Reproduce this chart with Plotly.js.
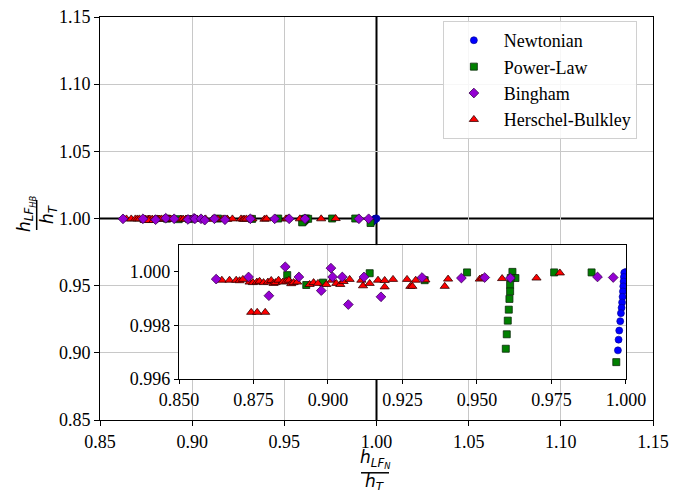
<!DOCTYPE html>
<html>
<head>
<meta charset="utf-8">
<script src="https://cdn.plot.ly/plotly-3.0.1.min.js"></script>
<style>html,body{margin:0;padding:0;background:#fff;}#chart{width:684px;height:490px;}</style>
</head>
<body>
<div id="chart"></div>
<script>
// ---- data ----
const seriesNames = ["Newtonian", "Power-Law", "Bingham", "Herschel-Bulkley"];

const newtX = [1.0, 0.99945, 0.99933, 0.99922, 0.99911, 0.99900, 0.99888, 0.99872, 0.99855, 0.99833, 0.99810, 0.99776, 0.99754, 0.99732];
const newtY = [1.0, 0.99997, 0.99981, 0.99964, 0.99946, 0.99927, 0.99907, 0.99886, 0.99866, 0.99846, 0.99816, 0.99781, 0.99747, 0.99707];

const powerX = [0.88632, 0.89271, 0.89831, 0.91400, 0.93246, 0.94668, 0.96191, 0.96292, 0.96135, 0.96114, 0.96114, 0.96091, 0.96069, 0.96035, 0.96001, 0.95968, 0.97592, 0.98848, 0.99677];
const powerY = [0.99988, 0.99951, 0.99960, 0.99995, 0.99969, 0.99998, 1.00000, 0.99977, 0.99977, 0.99952, 0.99927, 0.99899, 0.99859, 0.99818, 0.99767, 0.99713, 0.99998, 0.99998, 0.99663];

const binghamX = [0.86247, 0.87334, 0.88566, 0.88017, 0.89024, 0.89774, 0.90099, 0.90155, 0.90480, 0.90682, 0.91208, 0.91779, 0.93157, 0.94478, 0.95262, 0.96124, 0.99047, 0.99574];
const binghamY = [0.99973, 0.99981, 1.00019, 0.99911, 0.99981, 0.99930, 1.00014, 0.99981, 0.99981, 0.99878, 0.99981, 0.99907, 0.99979, 0.99977, 0.99979, 0.99977, 0.99981, 0.99979];

const hbX = [0.86437, 0.86695, 0.86919, 0.87031, 0.87143, 0.87367, 0.87479, 0.87613, 0.87703, 0.87837, 0.87983, 0.88095, 0.88173, 0.88240, 0.88341, 0.88487, 0.88599, 0.88688, 0.88767, 0.88845, 0.88968,
             0.89383, 0.89517, 0.89663, 0.89943, 0.90133, 0.90279, 0.90413, 0.90525, 0.90727, 0.91119, 0.91175, 0.91399, 0.91679, 0.91903, 0.91903,
             0.92183, 0.92653, 0.92765, 0.92832, 0.92944, 0.93269, 0.93919, 0.94031, 0.95095, 0.95173, 0.95845, 0.96999, 0.97783,
             0.87423, 0.87624, 0.87893];
const hbY = [0.99969, 0.99969, 0.99969, 0.99967, 0.99972, 0.99962, 0.99960, 0.99962, 0.99965, 0.99960, 0.99962, 0.99968, 0.99957, 0.99960, 0.99969, 0.99962, 0.99965, 0.99969, 0.99956, 0.99960, 0.99962,
             0.99953, 0.99960, 0.99957, 0.99953, 0.99969, 0.99957, 0.99953, 0.99964, 0.99972, 0.99969, 0.99948, 0.99957, 0.99969, 0.99968, 0.99944,
             0.99972, 0.99972, 0.99946, 0.99946, 0.99969, 0.99970, 0.99946, 0.99973, 0.99973, 0.99977, 0.99975, 0.99977, 0.99996,
             0.99849, 0.99849, 0.99849];

const mainTicks = [0.85, 0.90, 0.95, 1.00, 1.05, 1.10, 1.15];
const mainGrid = [0.85, 0.90, 0.95, 1.05, 1.10, 1.15];      // 1.00 carries the black reference line
const insetXTicks = [0.850, 0.875, 0.900, 0.925, 0.950, 0.975, 1.000];
const insetYTicks = [0.996, 0.998, 1.000];
const insetYGrid = [0.998];

// ---- styles ----
const serif = "Liberation Serif";
const styles = [
  {symbol: "circle", size: 7, color: "#0000ff", line: {color: "#00008a", width: 0.6}},
  {symbol: "square", size: 7, color: "#008000", line: {color: "#0a2a0a", width: 0.8}},
  {symbol: "diamond", size: 7.5, color: "#9400d3", line: {color: "#3a0050", width: 0.8}},
  {symbol: "triangle-up", size: 8, color: "#ff0000", line: {color: "#300000", width: 0.8}}
];
const xs = [newtX, powerX, binghamX, hbX];
const ys = [newtY, powerY, binghamY, hbY];
const drawOrder = [0, 1, 3, 2];

const traces = [];
drawOrder.forEach(i => {
  traces.push({
    x: xs[i], y: ys[i], type: "scatter", mode: "markers", name: seriesNames[i],
    xaxis: "x", yaxis: "y", legendrank: i + 1, showlegend: true,
    marker: {symbol: styles[i].symbol, size: styles[i].size, color: styles[i].color, line: styles[i].line}
  });
});
drawOrder.forEach(i => {
  traces.push({
    x: xs[i], y: ys[i], type: "scatter", mode: "markers", name: seriesNames[i],
    xaxis: "x2", yaxis: "y2", showlegend: false,
    marker: {symbol: styles[i].symbol, size: styles[i].size, color: styles[i].color, line: styles[i].line}
  });
});

const gridC = "#c8c8c8";
const tickFont = {family: serif, size: 18, color: "#000"};
const mathFont = {family: "DejaVu Sans", size: 17, color: "#000"};

function axis(extra) {
  return Object.assign({
    showgrid: false, zeroline: false,
    showline: true, linecolor: "#000", linewidth: 1, mirror: true,
    ticks: "outside", ticklen: 5, tickcolor: "#000", tickfont: tickFont
  }, extra);
}

const layout = {
  width: 684, height: 490, autosize: false,
  margin: {l: 100, r: 31, t: 17, b: 70, pad: 0},
  paper_bgcolor: "#fff", plot_bgcolor: "#fff",
  showlegend: true,
  legend: {
    x: 0.62, y: 0.99, xanchor: "left", yanchor: "top",
    bgcolor: "rgba(255,255,255,0.85)", bordercolor: "#d0d0d0", borderwidth: 1,
    font: {family: serif, size: 18, color: "#000"},
    itemwidth: 50, tracegroupgap: 0
  },
  xaxis: axis({domain: [0, 1], range: [0.85, 1.15], tickvals: mainTicks, tickformat: ".2f", anchor: "y",
    minor: {tickvals: mainGrid, showgrid: true, gridcolor: gridC, gridwidth: 1, ticks: ""}}),
  yaxis: axis({domain: [0, 1], range: [0.85, 1.15], tickvals: mainTicks, tickformat: ".2f", anchor: "x",
    minor: {tickvals: mainGrid, showgrid: true, gridcolor: gridC, gridwidth: 1, ticks: ""}}),
  xaxis2: axis({domain: [0.1429, 0.951], range: [0.85, 1.0], tickvals: insetXTicks, tickformat: ".3f", anchor: "y2",
    showgrid: true, gridcolor: gridC, gridwidth: 1, linewidth: 1.2, ticklen: 4}),
  yaxis2: axis({domain: [0.1017, 0.434], range: [0.996, 1.001], tickvals: insetYTicks, tickformat: ".3f", anchor: "x2",
    linewidth: 1.2, ticklen: 4,
    minor: {tickvals: insetYGrid, showgrid: true, gridcolor: gridC, gridwidth: 1, ticks: ""}}),
  shapes: [
    {type: "line", xref: "x", yref: "y domain", x0: 1, x1: 1, y0: 0, y1: 1, line: {color: "#000", width: 2}, layer: "below"},
    {type: "line", xref: "x domain", yref: "y", x0: 0, x1: 1, y0: 1, y1: 1, line: {color: "#000", width: 2}, layer: "below"},
    {type: "line", xref: "x2 domain", yref: "y2", x0: 0, x1: 1, y0: 1, y1: 1, line: {color: "#000", width: 1.6}, layer: "below"},
    // fraction bars for axis labels
    {type: "line", xref: "paper", yref: "paper", x0: 0.472, x1: 0.5226, y0: -0.131, y1: -0.131, line: {color: "#000", width: 1.5}},
    {type: "line", xref: "paper", yref: "paper", x0: -0.1145, x1: -0.1145, y0: 0.4715, y1: 0.546, line: {color: "#000", width: 1.5}}
  ],
  annotations: [
    {xref: "paper", yref: "paper", x: 0.4973, y: -0.097, xanchor: "center", yanchor: "middle", showarrow: false,
     text: "<i>h</i><sub><i>LF</i><sub><i>N</i></sub></sub>", font: mathFont},
    {xref: "paper", yref: "paper", x: 0.4973, y: -0.156, xanchor: "center", yanchor: "middle", showarrow: false,
     text: "<i>h</i><sub><i>T</i></sub>", font: mathFont},
    {xref: "paper", yref: "paper", x: -0.134, y: 0.5136, xanchor: "center", yanchor: "middle", showarrow: false, textangle: -90,
     text: "<i>h</i><sub><i>LF</i><sub><i>HB</i></sub></sub>", font: mathFont},
    {xref: "paper", yref: "paper", x: -0.094, y: 0.511, xanchor: "center", yanchor: "middle", showarrow: false, textangle: -90,
     text: "<i>h</i><sub><i>T</i></sub>", font: mathFont}
  ]
};

Plotly.newPlot("chart", traces, layout, {displayModeBar: false, staticPlot: true});
</script>
</body>
</html>
